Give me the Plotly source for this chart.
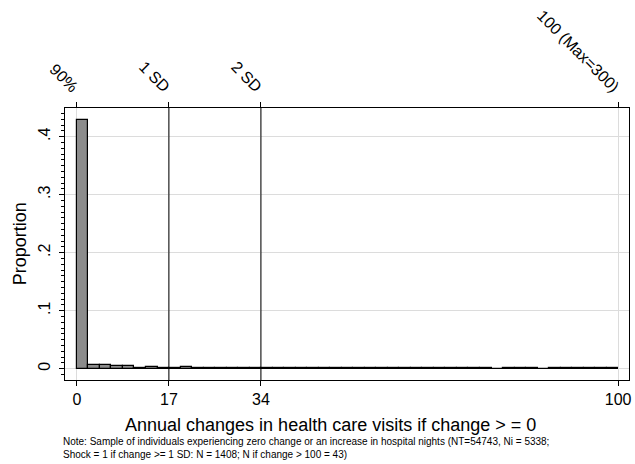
import numpy as np
import plotly.graph_objects as go

# ---- data ----
n_bins = 47
x_min, x_max = 0.0, 100.0
proportion = [
    0.429, 0.0065, 0.0062, 0.0048, 0.0042, 0.0020, 0.0035, 0.0017, 0.0012, 0.0025,
    0.0012, 0.0010, 0.0010, 0.0009, 0.0010, 0.0009, 0.0009, 0.0008, 0.0008, 0.0008,
    0.0008, 0.0007, 0.0007, 0.0007, 0.0007, 0.0007, 0.0006, 0.0007, 0.0006, 0.0008,
    0.0007, 0.0006, 0.0006, 0.0006, 0.0007, 0.0006, 0.0, 0.0006, 0.0006, 0.0006,
    0.0, 0.0006, 0.0006, 0.0006, 0.0006, 0.0006, 0.0009,
]
x_ticks = [0, 17, 34, 100]
top_ticks = [0, 17, 34, 100]
top_labels = ["90%", "1 SD", "2 SD", "100 (Max=300)"]
sd_lines = [17, 34]
y_ticks = [0, 0.1, 0.2, 0.3, 0.4]
y_labels = ["0", ".1", ".2", ".3", ".4"]
x_title = "Annual changes in health care visits if change > = 0"
y_title = "Proportion"
note = ("Note: Sample of individuals experiencing zero change or an increase in hospital nights (NT=54743, Ni = 5338;<br>"
        "Shock = 1 if change >= 1 SD: N = 1408; N if change > 100 = 43)")

bin_w = (x_max - x_min) / n_bins
centers = x_min + bin_w * (np.arange(n_bins) + 0.5)

FONT = "Liberation Sans, Arial, sans-serif"
W, H = 635, 464
L, R, T, B = 65, 3, 108, 84

fig = go.Figure()
fig.add_trace(go.Bar(
    x=centers, y=proportion, width=bin_w,
    marker=dict(color="#8c8c8c", line=dict(color="black", width=1.2)),
    hoverinfo="skip",
))
# invisible trace to activate the top axis
fig.add_trace(go.Scatter(x=[0, 100], y=[0, 0], xaxis="x2", mode="markers",
                         marker=dict(opacity=0), hoverinfo="skip", showlegend=False))

for v in sd_lines:
    fig.add_shape(type="line", x0=v, x1=v, y0=0, y1=1, xref="x", yref="paper",
                  line=dict(color="black", width=1), layer="above")

xr = [-2.2, 102.0]
fig.update_layout(
    width=W, height=H,
    margin=dict(l=L, r=R, t=T, b=B),
    paper_bgcolor="white", plot_bgcolor="white",
    showlegend=False, bargap=0,
    font=dict(family=FONT, color="black", size=16),
    xaxis=dict(range=xr, tickvals=x_ticks, ticks="outside", ticklen=5, tickcolor="black",
               showline=True, linecolor="black", linewidth=1, mirror=False,
               showgrid=False, zeroline=False, tickfont=dict(size=16)),
    xaxis2=dict(range=xr, overlaying="x", side="top", tickvals=top_ticks, ticktext=top_labels,
                ticks="outside", ticklen=5, tickcolor="black", tickangle=45,
                showline=True, linecolor="black", linewidth=1,
                showgrid=True, gridcolor="#dcdcdc", gridwidth=1, zeroline=False,
                tickfont=dict(size=16)),
    yaxis=dict(range=[-0.0195, 0.4495], tickvals=y_ticks, ticktext=y_labels, tickangle=-90,
               ticks="outside", ticklen=5, tickcolor="black", ticklabelstandoff=3,
               minor=dict(dtick=0.01, ticks="outside", ticklen=3, tickcolor="black", showgrid=False),
               showline=True, linecolor="black", linewidth=1, mirror=True,
               showgrid=True, gridcolor="#dcdcdc", gridwidth=1, zeroline=False,
               tickfont=dict(size=16)),
)

pw = W - L - R
ph = H - T - B
fig.add_annotation(text=x_title, xref="paper", yref="paper",
                   x=(332 - L) / pw, y=(H - B - 425) / ph, xanchor="center", yanchor="middle",
                   showarrow=False, font=dict(size=18))
fig.add_annotation(text=y_title, xref="paper", yref="paper", textangle=-90,
                   x=(20 - L) / pw, y=0.5, xanchor="center", yanchor="middle",
                   showarrow=False, font=dict(size=18))
fig.add_annotation(text=note, xref="paper", yref="paper", align="left",
                   x=(61 - L) / pw, y=(H - B - 434) / ph, xanchor="left", yanchor="top",
                   showarrow=False, font=dict(size=10))

fig.write_html("out.html")
